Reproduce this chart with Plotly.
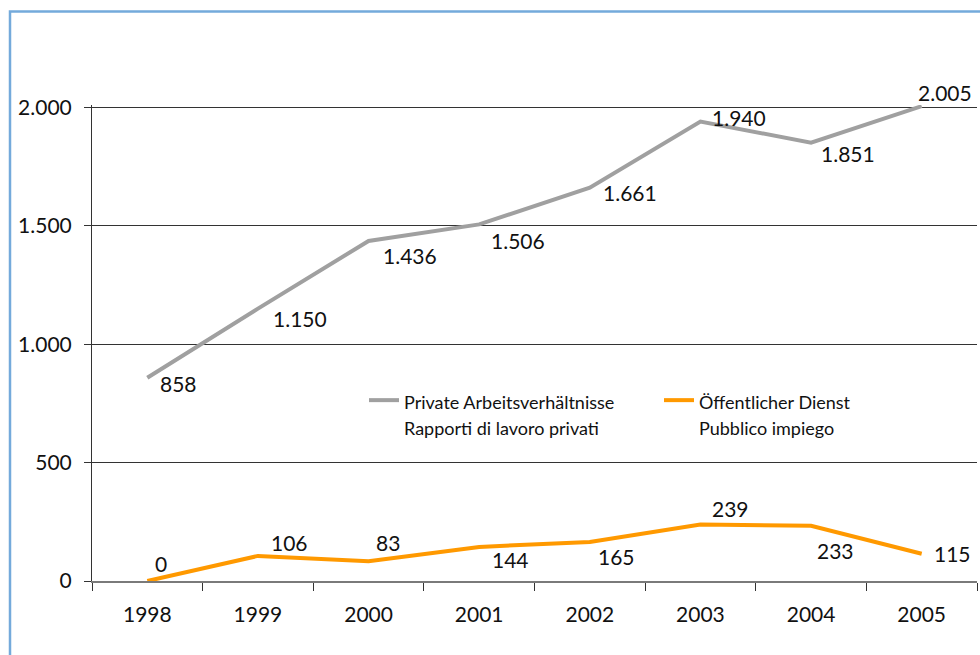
import plotly.graph_objects as go

years = ["1998", "1999", "2000", "2001", "2002", "2003", "2004", "2005"]
private_vals = [858, 1150, 1436, 1506, 1661, 1940, 1851, 2005]
public_vals = [0, 106, 83, 144, 165, 239, 233, 115]
private_legend = ["Private Arbeitsverhältnisse", "Rapporti di lavoro privati"]
public_legend = ["Öffentlicher Dienst", "Pubblico impiego"]
y_ticks = [0, 500, 1000, 1500, 2000]

# label offsets (pixels) relative to each point
private_off = [(31, -6), (42, -10), (41, -15), (39, -16), (40, -5), (39, 4), (37, -11), (23, 14)]
public_off = [(14, 18), (32, 13), (19, 19), (31, -13), (27, -15), (30, 16), (24, -25), (31, 0)]

FONT = "Lato"
NUM_SIZE = 21
GRAY = "#a0a0a0"
ORANGE = "#ff9900"
W, H = 980, 655
ML, MR, MB = 92, 3, 74
Y_MAX = 2010
PLOT_H = 474 * Y_MAX / 2000
MT = H - MB - PLOT_H
PLOT_W = W - ML - MR


def fmt(v):
    return f"{v:,}".replace(",", ".")


def px(xp):
    return (xp - ML) / PLOT_W


def py(yp):
    return (H - MB - yp) / PLOT_H


fig = go.Figure()
fig.add_trace(go.Scatter(x=years, y=private_vals, mode="lines", name=" ".join(private_legend),
                         line=dict(color=GRAY, width=4), cliponaxis=False, showlegend=False))
fig.add_trace(go.Scatter(x=years, y=public_vals, mode="lines", name=" ".join(public_legend),
                         line=dict(color=ORANGE, width=4), cliponaxis=False, showlegend=False))

ann = []
for vals, offs in ((private_vals, private_off), (public_vals, public_off)):
    for i, (v, (dx, dy)) in enumerate(zip(vals, offs)):
        ann.append(dict(x=i, y=v, xref="x", yref="y", text=fmt(v), showarrow=False,
                        xanchor="center", yanchor="middle", xshift=dx, yshift=dy,
                        font=dict(family=FONT, size=NUM_SIZE, color="#111111")))

shapes = [dict(type="rect", xref="paper", yref="paper", x0=px(10), x1=1.2, y0=-0.3, y1=py(11),
               line=dict(color="#74aadb", width=2.5), layer="below")]

# manual legend
for (x0, color, lines) in ((369, GRAY, private_legend), (664, ORANGE, public_legend)):
    shapes.append(dict(type="line", xref="paper", yref="paper", x0=px(x0), x1=px(x0 + 30),
                       y0=py(400), y1=py(400), line=dict(color=color, width=4)))
    for k, t in enumerate(lines):
        ann.append(dict(x=px(x0 + 33), y=py(402 + 26 * k), xref="paper", yref="paper", text=t,
                        showarrow=False, xanchor="left", yanchor="middle",
                        font=dict(family=FONT, size=18, color="#111111")))

fig.update_layout(
    width=W, height=H,
    margin=dict(l=ML, r=MR, t=MT, b=MB),
    paper_bgcolor="white", plot_bgcolor="white",
    font=dict(family=FONT, size=NUM_SIZE, color="#111111"),
    showlegend=False,
    annotations=ann,
    shapes=shapes,
)
fig.update_xaxes(type="category", range=[-0.5, len(years) - 0.5], showgrid=False,
                 showline=True, linecolor="#7a7a7a", linewidth=2,
                 ticks="outside", tickson="boundaries", ticklen=8, tickcolor="#333333", tickwidth=1,
                 tickfont=dict(size=NUM_SIZE), ticklabelstandoff=14)
fig.update_yaxes(range=[0, Y_MAX], tickvals=y_ticks, ticktext=[fmt(v) for v in y_ticks],
                 showgrid=True, gridcolor="#333333", gridwidth=1, zeroline=False,
                 showline=True, linecolor="#333333", linewidth=1,
                 ticks="outside", ticklen=7, tickcolor="#333333", tickfont=dict(size=NUM_SIZE),
                 ticklabelstandoff=8)

fig.write_html("out.html")
